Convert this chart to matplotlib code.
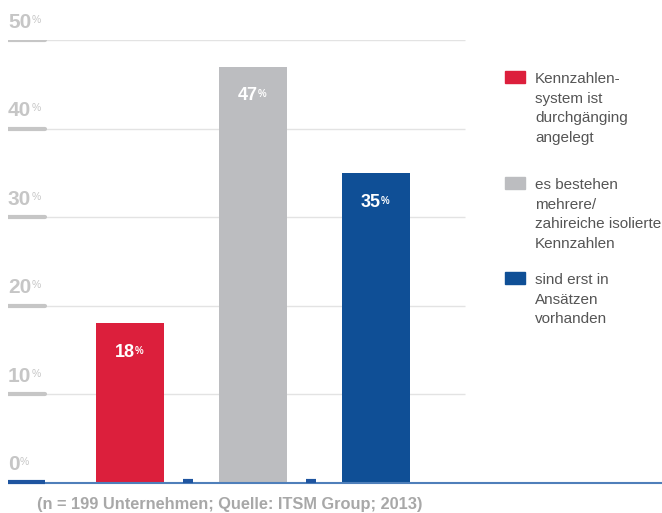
import matplotlib
matplotlib.use("Agg")
import matplotlib.pyplot as plt

plt.rcParams['font.family'] = ['Liberation Sans', 'DejaVu Sans']

categories = [["Kennzahlen-", "system ist", "durchgänging", "angelegt"],
              ["es bestehen", "mehrere/", "zahireiche isolierte", "Kennzahlen"],
              ["sind erst in", "Ansätzen", "vorhanden"]]
values = [18, 47, 35]
colors = ["#dc1f3c", "#bcbdc0", "#0f4f96"]
yticks = [0, 10, 20, 30, 40, 50]
footer = "(n = 199 Unternehmen; Quelle: ITSM Group; 2013)"

W, H = 662, 513
fig = plt.figure(figsize=(W / 100, H / 100), dpi=100)

y0_px, y50_px = 482.5, 40.0
ax = fig.add_axes([8 / W, (H - y0_px) / H, (W - 8) / W, (y0_px - y50_px) / H])
ax.set_ylim(0, 50)
c0, step = 129.5, 123.0
x_left = (8 - c0) / step
x_right = (W - c0) / step
ax.set_xlim(x_left, x_right)
ax.axis("off")
ax.patch.set_alpha(0)

grid_end = (465 - c0) / step
seg_end = (45 - c0) / step

pct_jobs = []  # (text artist, color, fontsize, bold)

for t in yticks:
    if t > 0:
        ax.plot([x_left, grid_end], [t, t], color="#e3e3e3", lw=1.0, zorder=1,
                solid_capstyle="butt")
        ax.plot([x_left, seg_end], [t, t], color="#c6c6c6", lw=3.0, zorder=2,
                solid_capstyle="round")
    txt = ax.annotate(str(t), xy=(x_left, t), xytext=(0, 6), textcoords="offset points",
                      ha="left", va="bottom", fontsize=15, fontweight="bold",
                      color="#c6c6c6", zorder=3)
    pct_jobs.append((txt, "#c6c6c6", 7.5, "normal"))

# baseline
ax.plot([x_left, x_right], [0, 0], color="#4f7fba", lw=1.5, zorder=4, clip_on=False,
        solid_capstyle="butt")
ax.plot([x_left, seg_end], [0.08, 0.08], color="#1f55a0", lw=3.0, zorder=5,
        solid_capstyle="butt", clip_on=False)

for i in range(len(values) - 1):
    xm = (188 + step * i - c0) / step
    ax.plot([xm - 5 / step, xm + 5 / step], [0.15, 0.15], color="#1f55a0", lw=3.0,
            zorder=5, solid_capstyle="butt", clip_on=False)

bw = 68 / step
for i, (v, col) in enumerate(zip(values, colors)):
    ax.bar(i, v, width=bw, color=col, zorder=3, linewidth=0)
    lab = ax.annotate(str(v), xy=(i - 0.04, v), xytext=(0, -15), textcoords="offset points",
                      ha="center", va="top", fontsize=13, fontweight="bold",
                      color="white", zorder=6)
    pct_jobs.append((lab, "white", 7, "bold"))

# legend
sq_tops = [71, 177, 272]
for lines, col, ty in zip(categories, colors, sq_tops):
    fig.patches.append(plt.Rectangle((505 / W, 1 - (ty + 12) / H), 20 / W, 12 / H,
                                     transform=fig.transFigure, color=col, figure=fig))
    for k, line in enumerate(lines):
        base = ty + 12 + 19.7 * k
        fig.text(535 / W, 1 - base / H, line, ha="left", va="baseline", fontsize=11,
                 color="#555555")

fig.text(37 / W, 1 - 505 / H, footer, ha="left", va="center", fontsize=11.8,
         fontweight="bold", color="#a8a8a8")

# place superscript % signs next to measured digit texts
fig.canvas.draw()
renderer = fig.canvas.get_renderer()
for art, col, fs, fw in pct_jobs:
    bb = art.get_window_extent(renderer)
    fig.text((bb.x1 + 0.5) / W, (bb.y1 - 2) / H, "%", ha="left", va="top",
             fontsize=fs, color=col, fontweight=fw, zorder=7)

fig.savefig("out.png", dpi=100)
